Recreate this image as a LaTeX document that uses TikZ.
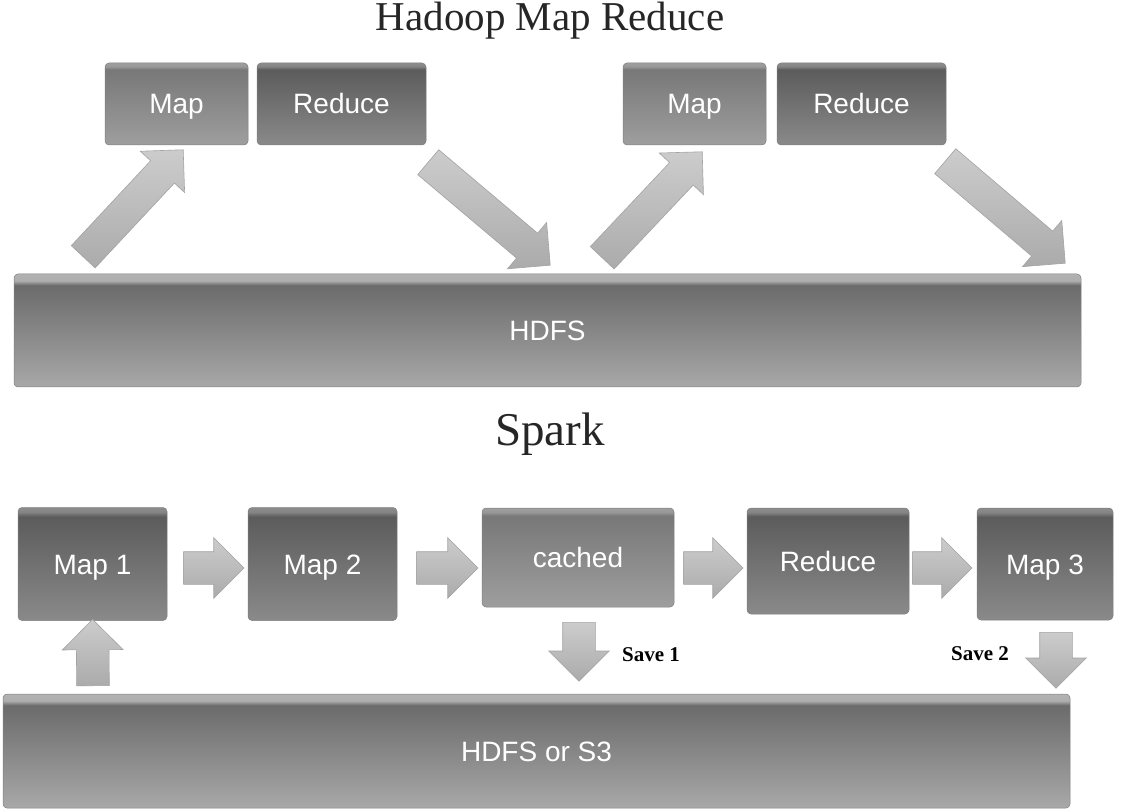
\documentclass[tikz,border=0pt]{standalone}
\usepackage{fontspec}
\usepackage{xcolor}
\usepackage{tikz}
\usetikzlibrary{calc}
\usetikzlibrary{shapes,arrows,positioning}
\usetikzlibrary{shapes.arrows}
\newfontfamily\boxfont{Liberation Sans}
\newfontfamily\savefont{Liberation Serif}
\pgfdeclareverticalshading{darkbox}{100bp}{color(0bp)=(black!46); color(25bp)=(black!46); color(71bp)=(black!64); color(73bp)=(black!48); color(75bp)=(black!45); color(100bp)=(black!45)}
\pgfdeclareverticalshading{lightbox}{100bp}{color(0bp)=(black!38); color(25bp)=(black!38); color(71bp)=(black!53); color(73bp)=(black!40); color(75bp)=(black!38); color(100bp)=(black!38)}
\pgfdeclareverticalshading{barbox}{100bp}{color(0bp)=(black!34); color(25bp)=(black!34); color(70bp)=(black!58); color(72bp)=(black!32); color(75bp)=(black!30); color(100bp)=(black!30)}
\newcommand{\fatarrow}[2]{\path let \p1=(#1), \p2=(#2), \p3=($(\p2)-(\p1)$), \n1={atan2(\y3,\x3)}, \n2={veclen(\x3,\y3)} in node[fat, anchor=tail, rotate=\n1, minimum height=\n2] at (\p1) {};}

\begin{document}
\begin{tikzpicture}[x=1pt,y=-1pt,
	box/.style={shade, rounded corners=4pt, draw=black!50, line width=0.5pt, text=white, font=\boxfont\fontsize{28}{32}\selectfont, text height=20pt, text depth=0pt, inner sep=0pt},
	fat/.style={single arrow, draw=black!36, top color=black!20, bottom color=black!33, single arrow head extend=14pt, single arrow tip angle=90, inner xsep=0pt, inner ysep=16pt, line width=0.6pt},
	title/.style={anchor=base, text=black!85, font=\savefont\fontsize{41}{48}\selectfont},
	save/.style={anchor=base, font=\savefont\bfseries\fontsize{21}{25}\selectfont}]
	\useasboundingbox (0,0) rectangle (1128,810);
	\fill[white] (0,0) rectangle (1128,810);
	\node[title] (hmr) at (550,31) {Hadoop Map Reduce};
	\node[box, shading=lightbox, minimum width=143, minimum height=82] (map1) at (176.5,104) {Map};
	\node[box, shading=darkbox, minimum width=169, minimum height=82] (red1) at (341.5,104) {Reduce};
	\node[box, shading=lightbox, minimum width=143, minimum height=82] (map2) at (694.5,104) {Map};
	\node[box, shading=darkbox, minimum width=169, minimum height=82] (red2) at (861.5,104) {Reduce};
	\node[box, shading=barbox, minimum width=1067, minimum height=113] (hdfs) at (547.5,330.5) {HDFS};
	\coordinate (up1a) at (83,257);
	\coordinate (up1b) at (183,150);
	\coordinate (dn1a) at (428,162);
	\coordinate (dn1b) at (550,265);
	\coordinate (up2a) at (602,258);
	\coordinate (up2b) at (702,152);
	\coordinate (dn2a) at (945,161);
	\coordinate (dn2b) at (1065,263);
	\fatarrow{up1a}{up1b}
	\fatarrow{dn1a}{dn1b}
	\fatarrow{up2a}{up2b}
	\fatarrow{dn2a}{dn2b}
	\node[title, font=\savefont\fontsize{47}{54}\selectfont] (spark) at (550,446) {Spark};
	\node[box, shading=darkbox, minimum width=149, minimum height=113] (m1) at (92.5,564) {Map 1};
	\node[box, shading=darkbox, minimum width=149, minimum height=113] (m2) at (322.5,564) {Map 2};
	\node[box, shading=lightbox, minimum width=192, minimum height=99] (cached) at (578,557.5) {cached};
	\node[box, shading=darkbox, minimum width=162, minimum height=106] (red) at (828,561) {Reduce};
	\node[box, shading=darkbox, minimum width=136, minimum height=112] (m3) at (1045,564) {Map 3};
	\node[box, shading=barbox, minimum width=1067, minimum height=114] (s3) at (536.5,751) {HDFS or S3};
	\fatarrow{[shift={(16,4)}]m1.east}{[shift={(-4,4)}]m2.west}
	\fatarrow{[shift={(19,4)}]m2.east}{[shift={(-4,10.5)}]cached.west}
	\fatarrow{[shift={(9,10.5)}]cached.east}{[shift={(-4,7)}]red.west}
	\fatarrow{[shift={(3,7)}]red.east}{[shift={(-5,4)}]m3.west}
	\coordinate (ld) at (93,686);
	\coordinate (sv1a) at (579,622);
	\coordinate (sv1b) at (579,681);
	\coordinate (sv2a) at (1056,632);
	\coordinate (sv2b) at (1056,688);
	\fatarrow{ld}{[yshift=1]m1.south}
	\fatarrow{sv1a}{sv1b}
	\fatarrow{sv2a}{sv2b}
	\node[save] (save1) at (651,661) {Save 1};
	\node[save] (save2) at (980,660) {Save 2};
\end{tikzpicture}
\end{document}
